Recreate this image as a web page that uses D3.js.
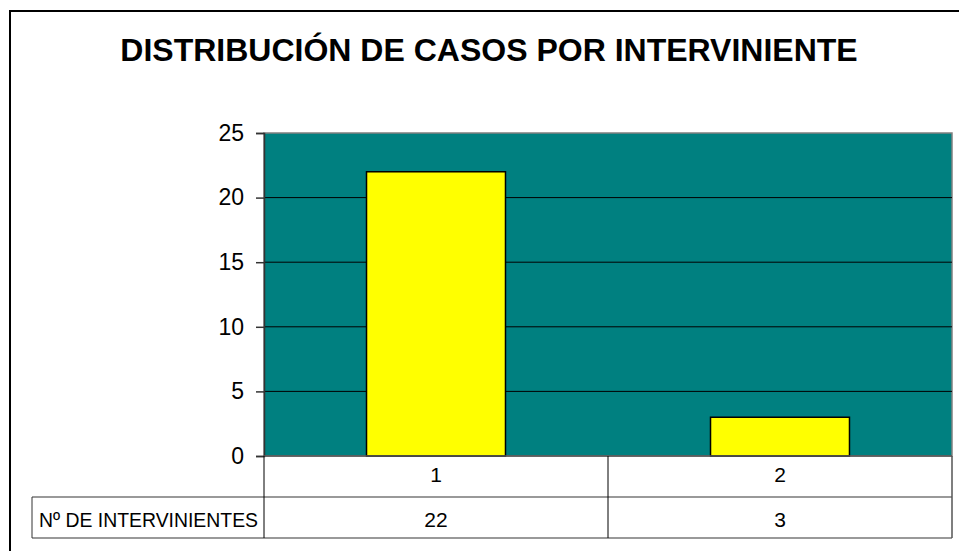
<!DOCTYPE html>
<html>
<head>
<meta charset="utf-8">
<script src="https://cdn.jsdelivr.net/npm/d3@7"></script>
<style>
  body { margin: 0; background: #fff; }
  svg { display: block; font-family: Arial, "Liberation Sans", sans-serif; }
</style>
</head>
<body>
<svg id="chart" width="959" height="551"></svg>
<script>
// data
var chartTitle = "DISTRIBUCIÓN DE CASOS POR INTERVINIENTE";
var categories = ["1", "2"];
var casos = [22, 3];
var serieName = "Nº DE INTERVINIENTES";
var yTicks = [0, 5, 10, 15, 20, 25];

var svg = d3.select("#chart");

// plot area
var plotLeft = 264, plotRight = 952, plotTop = 133, plotBottom = 456;
var rowH = 41, headerLeft = 32;

// outer frame (runs off the page on right/bottom)
svg.append("rect")
    .attr("x", 10).attr("y", 11)
    .attr("width", 980).attr("height", 580)
    .attr("fill", "#fff")
    .attr("stroke", "#000")
    .attr("stroke-width", 2);

svg.append("text")
    .attr("x", 489).attr("y", 61)
    .attr("text-anchor", "middle")
    .style("font-size", "32px")
    .style("font-weight", "bold")
    .text(chartTitle);

var x = d3.scaleBand()
    .domain(categories)
    .range([plotLeft, plotRight])
    .padding(0);

var y = d3.scaleLinear()
    .domain([0, 25])
    .range([plotBottom, plotTop]);

var barW = x.bandwidth() * 0.404;

// background
svg.append("rect")
    .attr("x", plotLeft).attr("y", plotTop)
    .attr("width", plotRight - plotLeft).attr("height", plotBottom - plotTop)
    .attr("fill", "#008080")
    .attr("stroke", "#808080")
    .attr("stroke-width", 1.5);

// gridlines
svg.append("g").selectAll("line")
    .data(yTicks.filter(d => d > 0 && d < 25))
    .enter().append("line")
    .attr("x1", plotLeft).attr("x2", plotRight)
    .attr("y1", d => y(d)).attr("y2", d => y(d))
    .attr("stroke", "#000")
    .attr("stroke-width", 1);

// bars
svg.append("g").selectAll("rect")
    .data(casos)
    .enter().append("rect")
    .attr("x", (d, i) => x(categories[i]) + (x.bandwidth() - barW) / 2)
    .attr("y", d => y(d))
    .attr("width", barW)
    .attr("height", d => y(0) - y(d))
    .attr("fill", "#ffff00")
    .attr("stroke", "#000")
    .attr("stroke-width", 1.5);

// y axis
var yAxis = d3.axisLeft(y).tickValues(yTicks).tickSize(8).tickPadding(12);
var gy = svg.append("g")
    .attr("transform", "translate(" + plotLeft + ",0)")
    .call(yAxis);
gy.select(".domain").attr("stroke", "#333").attr("stroke-width", 1.5);
gy.selectAll(".tick line").attr("stroke", "#333").attr("stroke-width", 1.5);
gy.selectAll(".tick text")
    .style("font-size", "23px")
    .style("font-family", "Arial, 'Liberation Sans', sans-serif")
    .attr("fill", "#000");

// data table
var tbl = svg.append("g");
var r1 = plotBottom, r2 = plotBottom + rowH, r3 = plotBottom + 2 * rowH;

tbl.append("line").attr("x1", plotLeft).attr("x2", plotRight).attr("y1", r1).attr("y2", r1)
    .attr("stroke", "#555").attr("stroke-width", 1.5);
tbl.append("line").attr("x1", headerLeft).attr("x2", plotRight).attr("y1", r2).attr("y2", r2)
    .attr("stroke", "#777").attr("stroke-width", 1.5);
tbl.append("line").attr("x1", headerLeft).attr("x2", plotRight).attr("y1", r3).attr("y2", r3)
    .attr("stroke", "#777").attr("stroke-width", 1.5);
tbl.append("line").attr("x1", headerLeft).attr("x2", headerLeft).attr("y1", r2).attr("y2", r3)
    .attr("stroke", "#333").attr("stroke-width", 1);
tbl.append("line").attr("x1", plotLeft).attr("x2", plotLeft).attr("y1", r1).attr("y2", r3)
    .attr("stroke", "#000").attr("stroke-width", 1);
tbl.append("line").attr("x1", plotRight).attr("x2", plotRight).attr("y1", r1).attr("y2", r3)
    .attr("stroke", "#555").attr("stroke-width", 1.5);
tbl.selectAll(".div")
    .data(categories.slice(1))
    .enter().append("line")
    .attr("x1", d => x(d)).attr("x2", d => x(d))
    .attr("y1", r1).attr("y2", r3)
    .attr("stroke", "#000").attr("stroke-width", 1);

tbl.selectAll(".cat")
    .data(categories)
    .enter().append("text")
    .attr("x", d => x(d) + x.bandwidth() / 2)
    .attr("y", r1 + 26)
    .attr("text-anchor", "middle")
    .style("font-size", "21px")
    .text(d => d);

tbl.selectAll(".val")
    .data(casos)
    .enter().append("text")
    .attr("x", (d, i) => x(categories[i]) + x.bandwidth() / 2)
    .attr("y", r2 + 30)
    .attr("text-anchor", "middle")
    .style("font-size", "21px")
    .text(d => d);

tbl.append("text")
    .attr("x", 39).attr("y", r2 + 30)
    .attr("textLength", 219)
    .attr("lengthAdjust", "spacingAndGlyphs")
    .style("font-size", "20px")
    .text(serieName);
</script>
</body>
</html>
